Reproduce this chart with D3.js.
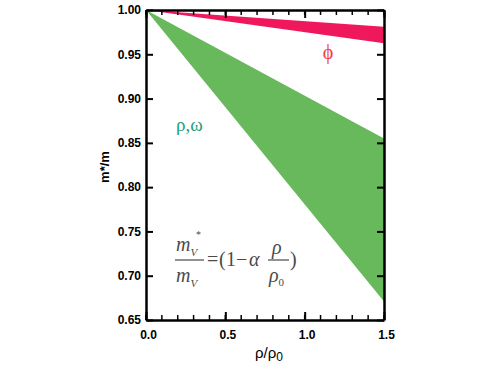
<!DOCTYPE html>
<html>
  <head>
    <meta charset="utf-8">
    <title>Vector meson masses</title>
    <script src="https://cdn.jsdelivr.net/npm/d3@7"></script>
    <style>
      body { margin: 0; background: #fff; }
      .tick text { font-family: "Liberation Sans", Arial, sans-serif; font-weight: bold; font-size: 12px; }
    </style>
  </head>
  <body>
    <script>
      // density axis and the two bands (start at 1.0, end at rho/rho0 = 1.5)
      var densities = [0, 1.5];
      var phiUpper = [1.0, 0.981];
      var phiLower = [1.0, 0.9625];
      var rhoUpper = [1.0, 0.855];
      var rhoLower = [1.0, 0.671];
      var yTicks = [0.65, 0.70, 0.75, 0.80, 0.85, 0.90, 0.95, 1.00];
      var xTicks = [0.0, 0.5, 1.0, 1.5];
      var xMinor = d3.range(0, 16).map(function(i) { return i / 10; });

      var w = 491, h = 368;
      var margin = {top: 10, right: 107, bottom: 48, left: 146};
      var iw = w - margin.left - margin.right;
      var ih = h - margin.top - margin.bottom;

      var svg = d3.select("body").append("svg")
                  .attr("width", w)
                  .attr("height", h);
      var g = svg.append("g")
                 .attr("transform", "translate(" + margin.left + "," + margin.top + ")");

      var x = d3.scaleLinear().domain([0, 1.5]).range([0, iw]);
      var y = d3.scaleLinear().domain([0.65, 1.0]).range([ih, 0]);

      function band(upper, lower) {
        var pts = densities.map(function(d, i) { return [x(d), y(upper[i])]; });
        var back = densities.map(function(d, i) { return [x(d), y(lower[i])]; }).reverse();
        return d3.line()(pts.concat(back)) + "Z";
      }

      g.append("path").attr("d", band(rhoUpper, rhoLower)).attr("fill", "#67b95c");
      g.append("path").attr("d", band(phiUpper, phiLower)).attr("fill", "#f0185c");

      // axes with inward ticks
      var bottomAxis = g.append("g").attr("transform", "translate(0," + ih + ")")
                    .call(d3.axisBottom(x).tickValues(xTicks).tickFormat(d3.format(".1f"))
                          .tickSizeInner(-8).tickSizeOuter(0).tickPadding(10));
      bottomAxis.append("g").selectAll("line").data(xMinor).enter().append("line")
            .attr("x1", function(d) { return x(d); }).attr("x2", function(d) { return x(d); })
            .attr("y1", 0).attr("y2", -5).attr("stroke", "#000").attr("stroke-width", 1.5);

      var topAxis = g.append("g")
                 .call(d3.axisTop(x).tickValues(xTicks).tickFormat("")
                       .tickSizeInner(-8).tickSizeOuter(0));
      topAxis.append("g").selectAll("line").data(xMinor).enter().append("line")
         .attr("x1", function(d) { return x(d); }).attr("x2", function(d) { return x(d); })
         .attr("y1", 0).attr("y2", 5).attr("stroke", "#000").attr("stroke-width", 1.5);

      g.append("g")
       .call(d3.axisLeft(y).tickValues(yTicks).tickFormat(d3.format(".2f"))
             .tickSizeInner(-7).tickSizeOuter(0).tickPadding(5));
      g.append("g").attr("transform", "translate(" + iw + ",0)")
       .call(d3.axisRight(y).tickValues(yTicks).tickFormat("")
             .tickSizeInner(-7).tickSizeOuter(0));

      g.selectAll(".domain").attr("stroke", "#000").attr("stroke-width", 2.5);
      g.selectAll(".tick line").attr("stroke-width", 2);
      bottomAxis.selectAll(".tick text").attr("dx", "2");

      // axis titles
      svg.append("text")
         .attr("transform", "translate(109,167) rotate(-90)")
         .attr("text-anchor", "middle")
         .style("font-family", "Liberation Sans, Arial, sans-serif")
         .style("font-weight", "bold").style("font-size", "13px")
         .text("m*/m");

      var xl = svg.append("text")
         .attr("x", margin.left + iw / 2 + 4).attr("y", 358)
         .attr("text-anchor", "middle")
         .style("font-family", "Liberation Sans, Arial, sans-serif")
         .style("font-size", "15px");
      xl.append("tspan").text("ρ/ρ");
      xl.append("tspan").attr("dy", 3).style("font-size", "12px").text("0");

      // band labels
      svg.append("text").attr("x", 328).attr("y", 59).attr("text-anchor", "middle")
         .attr("fill", "#f04040").style("font-family", "Liberation Serif, serif")
         .style("font-size", "20px").text("ϕ");
      svg.append("text").attr("x", 176).attr("y", 131)
         .attr("fill", "#1fa07a").style("font-family", "Liberation Serif, serif")
         .style("font-size", "19px").text("ρ,ω");

      // formula
      var fc = "#4a4a4a";
      var f = svg.append("g").attr("fill", fc)
                 .style("font-family", "Liberation Serif, serif").style("font-size", "20px");
      function put(txt, px, py, italic) {
        return f.append("text").attr("x", px).attr("y", py)
                .style("font-style", italic ? "italic" : "normal").text(txt);
      }
      var mtop = put("", 176, 251, true);
      mtop.append("tspan").text("m");
      mtop.append("tspan").attr("dy", 5).style("font-size", "11px").text("V");
      f.append("text").attr("x", 196).attr("y", 238).style("font-size", "10px").text("*");
      f.append("line").attr("x1", 175).attr("x2", 204).attr("y1", 260).attr("y2", 260)
       .attr("stroke", fc).attr("stroke-width", 1.2);
      var mbot = put("", 176, 282, true);
      mbot.append("tspan").text("m");
      mbot.append("tspan").attr("dy", 5).style("font-size", "11px").text("V");
      put("=", 207, 266, false);
      put("(", 219, 266, false);
      put("1", 226, 266, false);
      put("−", 236, 266, false);
      put("α", 249, 266, true);
      put("ρ", 272, 254, true);
      f.append("line").attr("x1", 268).attr("x2", 289).attr("y1", 260).attr("y2", 260)
       .attr("stroke", fc).attr("stroke-width", 1.2);
      var r0 = put("", 269, 282, true);
      r0.append("tspan").text("ρ");
      r0.append("tspan").attr("dy", 4).style("font-size", "11px").style("font-style", "normal").text("0");
      put(")", 290, 266, false);
    </script>
  </body>
</html>
